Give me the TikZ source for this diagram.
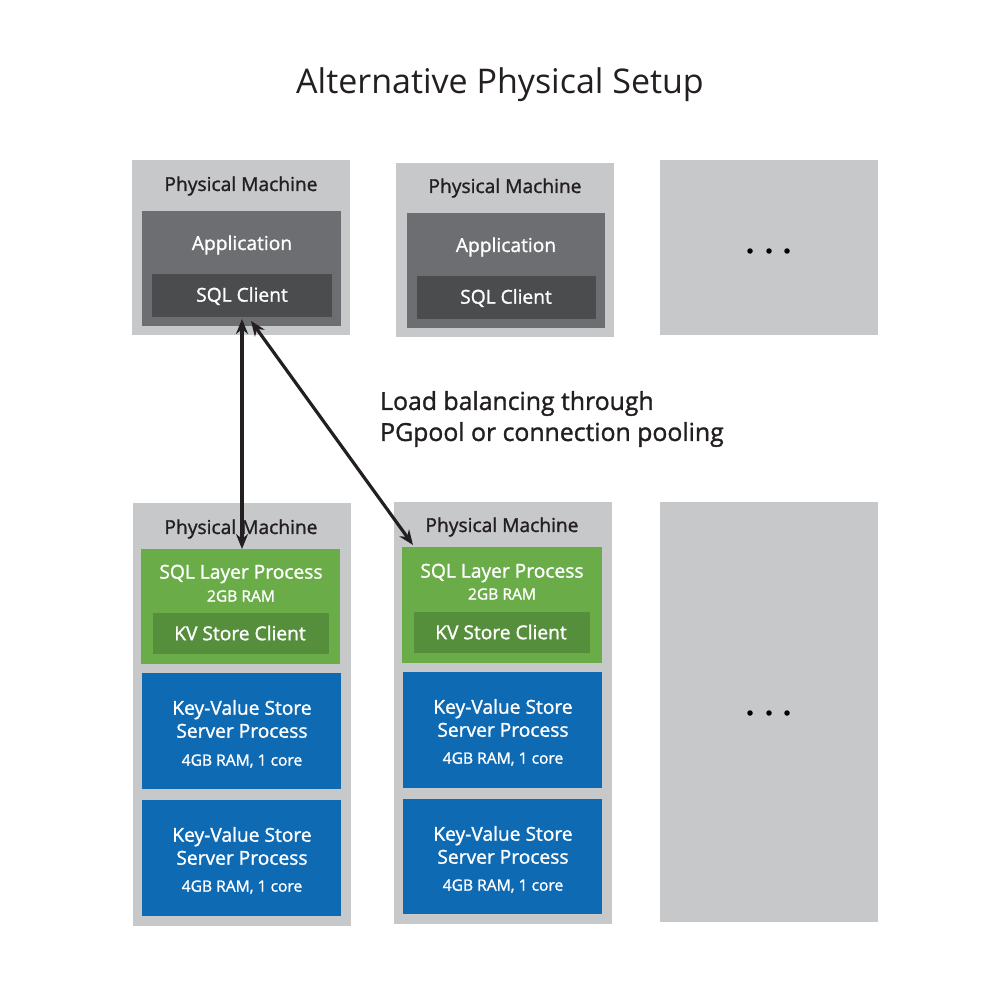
\documentclass[tikz,border=0pt]{standalone}
\usepackage{fontspec}
\setmainfont{Open Sans}
\newfontfamily\semi{Open Sans}[FakeBold=1.3]
\usetikzlibrary{fit,arrows.meta}
\definecolor{machgray}{HTML}{C7C8CA}
\definecolor{appgray}{HTML}{6D6E71}
\definecolor{clientgray}{HTML}{4A4C4E}
\definecolor{sqlgreen}{HTML}{6AAC47}
\definecolor{kvgreen}{HTML}{568F3B}
\definecolor{kvblue}{HTML}{0F6AB4}
\definecolor{ink}{HTML}{231F20}
\tikzset{
  box/.style={inner sep=0pt, outer sep=0pt, draw=none},
  machine/.style={box, fill=machgray},
  appbox/.style={box, fill=appgray},
  clientbox/.style={box, fill=clientgray},
  sqlbox/.style={box, fill=sqlgreen},
  kvcbox/.style={box, fill=kvgreen},
  storebox/.style={box, fill=kvblue},
  darktext/.style={text=ink, inner sep=0pt, font=\semi\fontsize{19.2}{23}\selectfont},
  whitetext/.style={text=white, inner sep=0pt, font=\semi\fontsize{19.2}{23}\selectfont},
  smalltext/.style={text=white, inner sep=0pt, font=\semi\fontsize{15.6}{18}\selectfont},
  dotmark/.style={circle, fill=black, inner sep=0pt, minimum size=5.5pt},
  link/.style={draw=ink, line width=3.2pt, {Stealth[length=15pt,width=12pt]}-{Stealth[length=15pt,width=12pt]}}
}
\begin{document}
\begin{tikzpicture}[x=1pt,y=-1pt]
\useasboundingbox (0,0) rectangle (1000,998);
\node[text=ink, font=\fontsize{34}{38}\selectfont] (title) at (500,85) {Alternative Physical Setup};
% top row
\node[machine, fit={(132,160) (350,335)}] (mA) {};
\node[appbox, fit={(142,211) (341,326)}] (appA) {};
\node[clientbox, fit={(152,274) (332,317)}] (sqlA) {};
\node[darktext] (mAt) at (241,186) {Physical Machine};
\node[whitetext] (appAt) at (242,245) {Application};
\node[whitetext] (sqlAt) at (242,296) {SQL Client};
\node[machine, fit={(396,163) (614,337)}] (mB) {};
\node[appbox, fit={(407,213) (605,328)}] (appB) {};
\node[clientbox, fit={(417,276) (596,319)}] (sqlB) {};
\node[darktext] (mBt) at (505,188) {Physical Machine};
\node[whitetext] (appBt) at (506,247) {Application};
\node[whitetext] (sqlBt) at (506,298) {SQL Client};
\node[machine, fit={(660,160) (878,335)}] (mC) {};
\node[dotmark] (dC1) at (750,251) {};
\node[dotmark] (dC2) at (769,251) {};
\node[dotmark] (dC3) at (787,251) {};
% label
\node[text=ink, anchor=west, align=left, inner sep=0pt, font=\semi\fontsize{24.8}{31}\selectfont] (lbl) at (380,419) {Load balancing through\\PGpool or connection pooling};
% bottom left
\node[machine, fit={(133,503) (351,926)}] (mD) {};
\node[darktext] (mDt) at (241,529) {Physical Machine};
\node[sqlbox, fit={(141,549) (340,664)}] (slpD) {};
\node[whitetext] (slpDt) at (241,574) {SQL Layer Process};
\node[smalltext] (ramD) at (241,596) {2GB RAM};
\node[kvcbox, fit={(153,613) (329,654)}] (kvcD) {};
\node[whitetext] (kvcDt) at (240,633) {KV Store Client};
\node[storebox, fit={(142,673) (341,789)}] (kvD1) {};
\node[whitetext, align=center] (kvD1t) at (242,719) {Key-Value Store\\Server Process};
\node[smalltext] (kvD1r) at (242,761) {4GB RAM, 1 core};
\node[storebox, fit={(142,800) (341,916)}] (kvD2) {};
\node[whitetext, align=center] (kvD2t) at (242,846) {Key-Value Store\\Server Process};
\node[smalltext] (kvD2r) at (242,887) {4GB RAM, 1 core};
% bottom middle
\node[machine, fit={(394,502) (612,924)}] (mE) {};
\node[darktext] (mEt) at (502,527) {Physical Machine};
\node[sqlbox, fit={(402,547) (602,663)}] (slpE) {};
\node[whitetext] (slpEt) at (502,573) {SQL Layer Process};
\node[smalltext] (ramE) at (502,594) {2GB RAM};
\node[kvcbox, fit={(414,612) (590,653)}] (kvcE) {};
\node[whitetext] (kvcEt) at (501,632) {KV Store Client};
\node[storebox, fit={(403,672) (602,788)}] (kvE1) {};
\node[whitetext, align=center] (kvE1t) at (503,718) {Key-Value Store\\Server Process};
\node[smalltext] (kvE1r) at (503,759) {4GB RAM, 1 core};
\node[storebox, fit={(403,799) (602,914)}] (kvE2) {};
\node[whitetext, align=center] (kvE2t) at (503,845) {Key-Value Store\\Server Process};
\node[smalltext] (kvE2r) at (503,886) {4GB RAM, 1 core};
% bottom right
\node[machine, fit={(660,502) (878,922)}] (mF) {};
\node[dotmark] (dF1) at (750,713) {};
\node[dotmark] (dF2) at (769,713) {};
\node[dotmark] (dF3) at (787,713) {};
% connectors
\draw[link] ([yshift=-2pt]sqlA.south) -- (slpD.north -| sqlA.south);
\draw[link] ([xshift=9pt,yshift=-4pt]sqlA.south) -- ([xshift=11pt,yshift=2pt]slpE.north west);
\end{tikzpicture}
\end{document}
